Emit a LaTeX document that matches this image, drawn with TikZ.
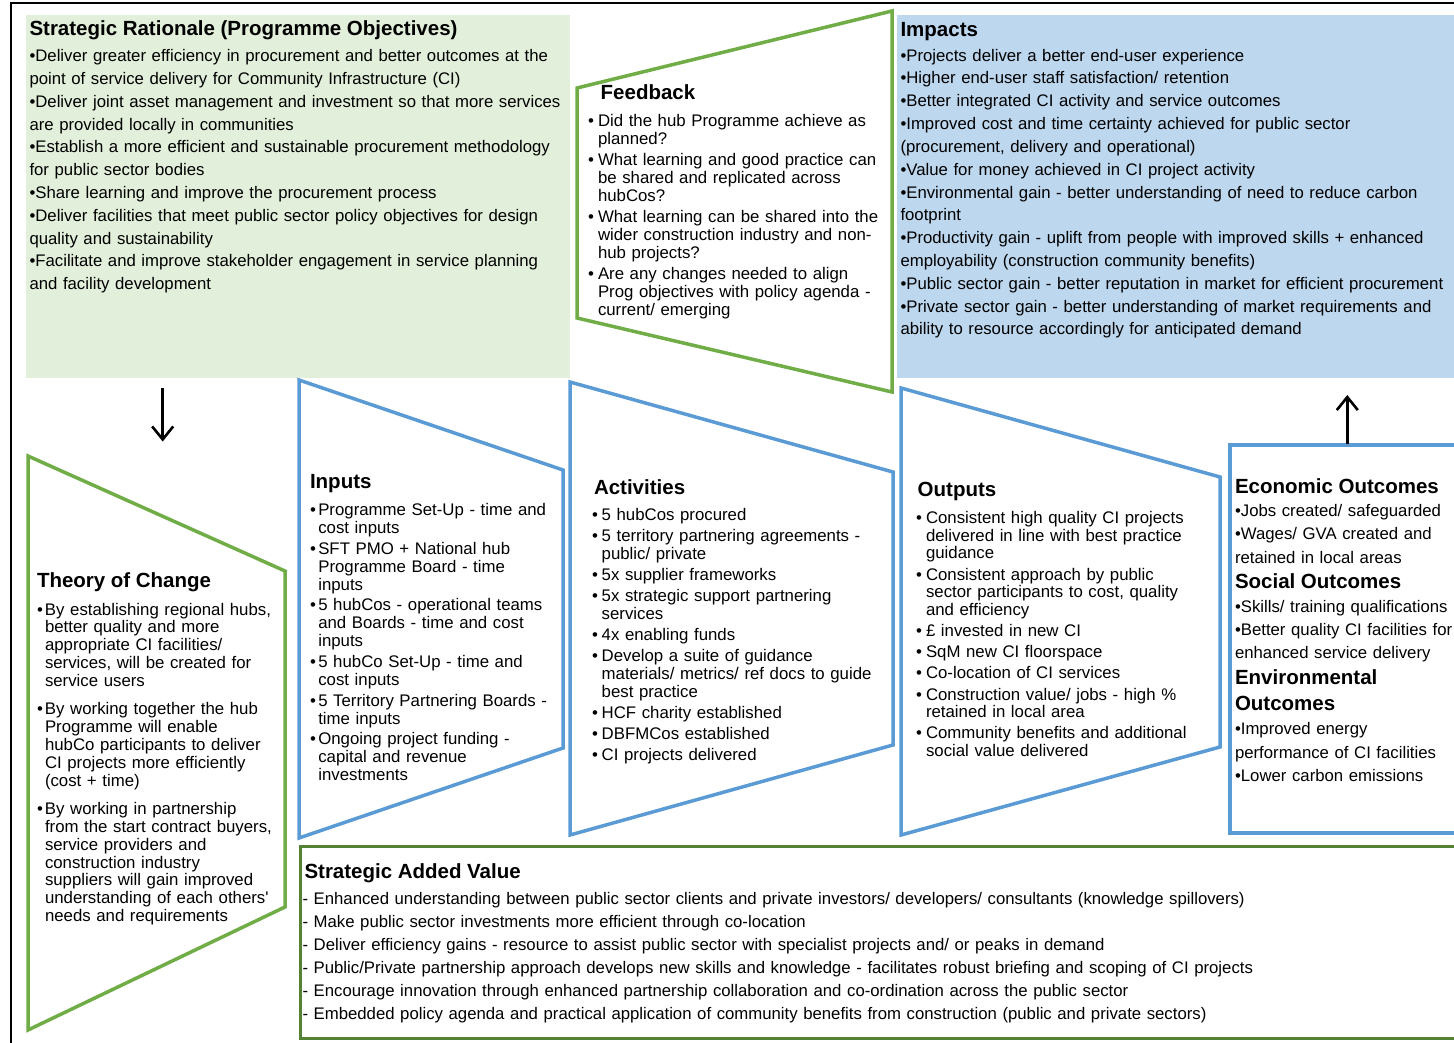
\documentclass[tikz,border=0pt]{standalone}
\usepackage{fontspec}
\setmainfont{Liberation Sans}
\newfontfamily\plainfont{Liberation Sans}
\usetikzlibrary{arrows.meta}

\definecolor{paleGreen}{HTML}{E2EFDA}
\definecolor{paleBlue}{HTML}{BDD7EE}
\definecolor{leafGreen}{HTML}{70AD47}
\definecolor{skyBlue}{HTML}{5B9BD5}
\definecolor{deepGreen}{HTML}{548235}

% bullet with a hanging indent of width \bw
\newlength\bw
\newcommand\bu{\makebox[\bw][l]{•}}
\newcommand\ci{\hspace*{\bw}}
\newcommand\ttl[1]{{\fontsize{20.5}{20}\selectfont\bfseries #1}}

\begin{document}
\begin{tikzpicture}[x=1pt,y=-1pt,
  blk/.style={anchor=base west, inner sep=0pt, outer sep=0pt,
              text width=1000pt, align=left},
  wide/.style={blk, font={\plainfont\fontsize{16.75}{#1}\selectfont}},
  tight/.style 2 args={blk, font={\plainfont\fontsize{16.8}{#1}\selectfont\setlength\bw{#2}}},
  flow/.style={line width=2.6pt, -{Straight Barb[length=13pt,width=21pt]}},
  greenpanel/.style={draw=leafGreen, line width=3.5pt, line join=miter},
  bluepanel/.style={draw=skyBlue, line width=3.5pt, line join=miter},
]
\useasboundingbox (0,0) rectangle (1454,1043);
\clip (0,0) rectangle (1454,1043);

% outer frame
\draw[line width=2pt] (11,3.5) rectangle (1480,1080);

% filled top boxes
\fill[paleGreen] (26,15) rectangle (570,378);
\fill[paleBlue] (897,15) rectangle (1470,378);

% feedback loop panel
\draw[greenpanel] (577,88) -- (892,11) -- (892,392) -- (577,318) -- cycle;

% theory of change panel
\draw[greenpanel] (28,456) -- (285,571) -- (285,907) -- (28,1030) -- cycle;

% results chain panels
\draw[bluepanel] (299,380) -- (563,470) -- (563,748) -- (299,838) -- cycle;
\draw[bluepanel] (570,382) -- (893,472) -- (893,745) -- (570,835) -- cycle;
\draw[bluepanel] (901,388) -- (1220,477) -- (1220,747) -- (901,835) -- cycle;
\draw[bluepanel] (1230,445) rectangle (1480,833);

% strategic added value frame
\draw[draw=deepGreen, line width=3pt] (300.5,846) rectangle (1480,1038);

% ---------------- texts ----------------
\node[wide=22.8] (sr) at (29.5,36) {%
\ttl{Strategic Rationale (Programme Objectives)}\\[3pt]
•Deliver greater efficiency in procurement and better outcomes at the\\
point of service delivery for Community Infrastructure (CI)\\
•Deliver joint asset management and investment so that more services\\
are provided locally in communities\\
•Establish a more efficient and sustainable procurement methodology\\
for public sector bodies\\
•Share learning and improve the procurement process\\
•Deliver facilities that meet public sector policy objectives for design\\
quality and sustainability\\
•Facilitate and improve stakeholder engagement in service planning\\
and facility development};

\node[wide=22.83] (impacts) at (900.5,36.7) {%
\ttl{Impacts}\\[1.5pt]
•Projects deliver a better end-user experience\\
•Higher end-user staff satisfaction/ retention\\
•Better integrated CI activity and service outcomes\\
•Improved cost and time certainty achieved for public sector\\
(procurement, delivery and operational)\\
•Value for money achieved in CI project activity\\
•Environmental gain - better understanding of need to reduce carbon\\
footprint\\
•Productivity gain - uplift from people with improved skills + enhanced\\
employability (construction community benefits)\\
•Public sector gain - better reputation in market for efficient procurement\\
•Private sector gain - better understanding of market requirements and\\
ability to resource accordingly for anticipated demand};

\node[tight={17.9}{10pt}] (feedback) at (588,99.3) {%
\hspace*{12.7pt}\ttl{Feedback}\\[9.4pt]
\bu Did the hub Programme achieve as\\
\ci planned?\\[3.3pt]
\bu What learning and good practice can\\
\ci be shared and replicated across\\
\ci hubCos?\\[3.3pt]
\bu What learning can be shared into the\\
\ci wider construction industry and non-\\
\ci hub projects?\\[3.3pt]
\bu Are any changes needed to align\\
\ci Prog objectives with policy agenda -\\
\ci current/ emerging};

\node[tight={17.8}{8pt}] (toc) at (37,587.6) {%
\ttl{Theory of Change}\\[9.6pt]
\bu By establishing regional hubs,\\
\ci better quality and more\\
\ci appropriate CI facilities/\\
\ci services, will be created for\\
\ci service users\\[10.8pt]
\bu By working together the hub\\
\ci Programme will enable\\
\ci hubCo participants to deliver\\
\ci CI projects more efficiently\\
\ci (cost + time)\\[10.8pt]
\bu By working in partnership\\
\ci from the start contract buyers,\\
\ci service providers and\\
\ci construction industry\\
\ci suppliers will gain improved\\
\ci understanding of each others'\\
\ci needs and requirements};

\node[tight={18}{8.3pt}] (inputs) at (310,488.3) {%
\ttl{Inputs}\\[9.4pt]
\bu Programme Set-Up - time and\\
\ci cost inputs\\[2.6pt]
\bu SFT PMO + National hub\\
\ci Programme Board - time\\
\ci inputs\\[2.6pt]
\bu 5 hubCos - operational teams\\
\ci and Boards - time and cost\\
\ci inputs\\[2.6pt]
\bu 5 hubCo Set-Up - time and\\
\ci cost inputs\\[2.6pt]
\bu 5 Territory Partnering Boards -\\
\ci time inputs\\[2.6pt]
\bu Ongoing project funding -\\
\ci capital and revenue\\
\ci investments};

\node[tight={17.7}{9.7pt}] (activities) at (592,494) {%
\hspace*{2pt}\ttl{Activities}\\[9pt]
\bu 5 hubCos procured\\[3.4pt]
\bu 5 territory partnering agreements -\\
\ci public/ private\\[3.4pt]
\bu 5x supplier frameworks\\[3.4pt]
\bu 5x strategic support partnering\\
\ci services\\[3.4pt]
\bu 4x enabling funds\\[3.4pt]
\bu Develop a suite of guidance\\
\ci materials/ metrics/ ref docs to guide\\
\ci best practice\\[3.4pt]
\bu HCF charity established\\[3.4pt]
\bu DBFMCos established\\[3.4pt]
\bu CI projects delivered};

\node[tight={17.8}{10pt}] (outputs) at (916,496) {%
\hspace*{1.7pt}\ttl{Outputs}\\[9.5pt]
\bu Consistent high quality CI projects\\
\ci delivered in line with best practice\\
\ci guidance\\[3.3pt]
\bu Consistent approach by public\\
\ci sector participants to cost, quality\\
\ci and efficiency\\[3.3pt]
\bu £ invested in new CI\\[3.3pt]
\bu SqM new CI floorspace\\[3.3pt]
\bu Co-location of CI services\\[3.3pt]
\bu Construction value/ jobs - high \%\\
\ci retained in local area\\[3.3pt]
\bu Community benefits and additional\\
\ci social value delivered};

\node[wide=23.3] (outcomes) at (1235,493.3) {%
\ttl{Economic Outcomes}\\
•Jobs created/ safeguarded\\
•Wages/ GVA created and\\
retained in local areas\\[2.3pt]
\ttl{Social Outcomes}\\
•Skills/ training qualifications\\
•Better quality CI facilities for\\
enhanced service delivery\\[2.4pt]
\ttl{Environmental}\\[2.7pt]
\ttl{Outcomes}\\[1pt]
•Improved energy\\
performance of CI facilities\\
•Lower carbon emissions};

\node[wide=23] (sav) at (302.5,878.8) {%
\hspace*{2pt}\ttl{Strategic Added Value}\\[2.6pt]
- Enhanced understanding between public sector clients and private investors/ developers/ consultants (knowledge spillovers)\\
- Make public sector investments more efficient through co-location\\
- Deliver efficiency gains - resource to assist public sector with specialist projects and/ or peaks in demand\\
- Public/Private partnership approach develops new skills and knowledge - facilitates robust briefing and scoping of CI projects\\
- Encourage innovation through enhanced partnership collaboration and co-ordination across the public sector\\
- Embedded policy agenda and practical application of community benefits from construction (public and private sectors)};

% ---------------- flow arrows ----------------
\coordinate (downFrom) at (162.7,388);
\coordinate (downTo) at (162.7,441.5);
\coordinate (upFrom) at (1347.3,443.5);
\coordinate (upTo) at (1347.3,395);
\draw[flow] (downFrom) -- (downTo);
\draw[flow] (upFrom) -- (upTo);
\end{tikzpicture}
\end{document}
